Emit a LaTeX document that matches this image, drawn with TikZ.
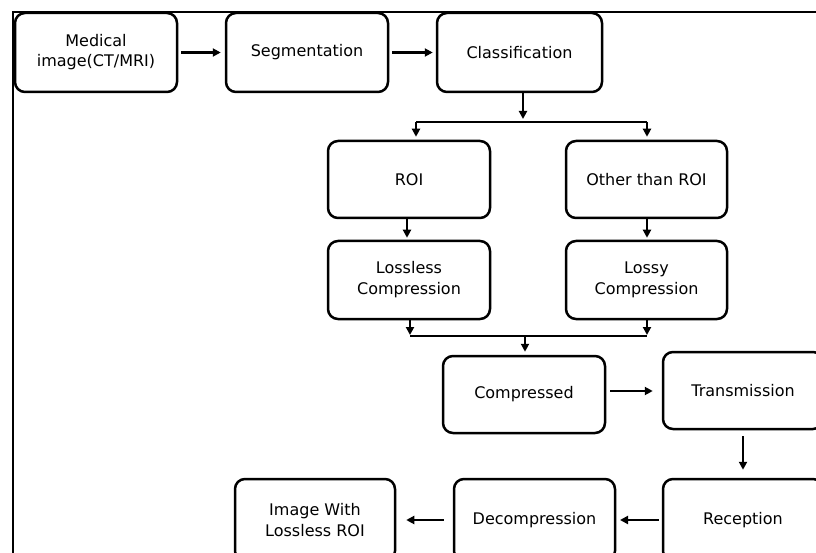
\documentclass[tikz,border=0pt]{standalone}
\usepackage{fontspec}
\setmainfont{DejaVu Sans}
\usetikzlibrary{arrows.meta}
\begin{document}
\begin{tikzpicture}[x=1pt,y=-1pt,
  stepbox/.style={draw, line width=2.5pt, rounded corners=10pt, align=center,
    font=\fontsize{16}{21}\selectfont, inner sep=0pt},
  arr/.style={line width=2.4pt, -{Triangle[length=8pt,width=8pt]}},
  ln/.style={line width=2.4pt}]
\useasboundingbox (0,0) rectangle (816,553);
\clip (0,0) rectangle (816,553);
\fill[white] (0,0) rectangle (816,553);
% frame
\draw[ln] (13,553) -- (13,12) -- (816,12);
% boxes
\node[stepbox, minimum width=162pt, minimum height=79pt] (med) at (96,52.5)
  {\raisebox{9pt}{\begin{tabular}{@{}c@{}}Medical\\[-1pt]image(CT/MRI)\end{tabular}}};
\node[stepbox, minimum width=162pt, minimum height=79pt] (seg) at (307,52.5) {Segmentation};
\node[stepbox, minimum width=165pt, minimum height=79pt] (cls) at (519.5,52.5) {Classification};
\node[stepbox, minimum width=162pt, minimum height=77pt] (roi) at (409,179.5) {ROI};
\node[stepbox, minimum width=161pt, minimum height=77pt] (oth) at (646.5,179.5) {Other than ROI};
\node[stepbox, minimum width=162pt, minimum height=78pt] (lsl) at (409,280) {Lossless\\Compression};
\node[stepbox, minimum width=161pt, minimum height=78pt] (lsy) at (646.5,280) {Lossy\\Compression};
\node[stepbox, minimum width=162pt, minimum height=77pt] (cmp) at (524,394.5) {Compressed};
\node[stepbox, minimum width=160pt, minimum height=77pt] (trn) at (743,390.5) {Transmission};
\node[stepbox, minimum width=160pt, minimum height=82pt] (rec) at (743,520) {Reception};
\node[stepbox, minimum width=161pt, minimum height=82pt] (dec) at (534.5,520) {Decompression};
\node[stepbox, minimum width=160pt, minimum height=82pt] (img) at (315,520) {Image With\\Lossless ROI};
% coordinates for splits / joins
\coordinate (bl) at (416,122);
\coordinate (br) at (647,122);
\coordinate (jl) at (410,336);
\coordinate (jr) at (647,336);
\coordinate (jm) at (525,336);
% connectors
\draw[arr, shorten <=3pt, shorten >=4pt] (med.east) -- (seg.west);
\draw[arr, shorten <=3pt, shorten >=3pt] (seg.east) -- (cls.west);
\draw[arr, shorten >=3pt] (cls.south -| 523,0) -- (523,122);
\draw[ln] (bl) -- (br);
\draw[arr, shorten >=3pt] (bl) -- (bl |- roi.north);
\draw[arr, shorten >=3pt] (br) -- (br |- oth.north);
\draw[arr, shorten >=2pt] (roi.south -| 407,0) -- (lsl.north -| 407,0);
\draw[arr, shorten >=2pt] (oth.south -| 647,0) -- (lsy.north -| 647,0);
\draw[arr, shorten >=1pt] (lsl.south -| jl) -- (jl);
\draw[arr, shorten >=1pt] (lsy.south -| jr) -- (jr);
\draw[ln] (jl) -- (jr);
\draw[arr, shorten >=3pt] (jm) -- (jm |- cmp.north);
\draw[arr, shorten <=4pt, shorten >=9pt] (cmp.east |- 0,391) -- (trn.west |- 0,391);
\draw[arr, shorten <=6pt, shorten >=8pt] (trn.south) -- (rec.north);
\draw[arr, shorten <=3pt, shorten >=5pt] (rec.west) -- (dec.west -| 615,0) ;
\draw[arr, shorten <=9pt, shorten >=10pt] (dec.west) -- (img.east);
\end{tikzpicture}
\end{document}
